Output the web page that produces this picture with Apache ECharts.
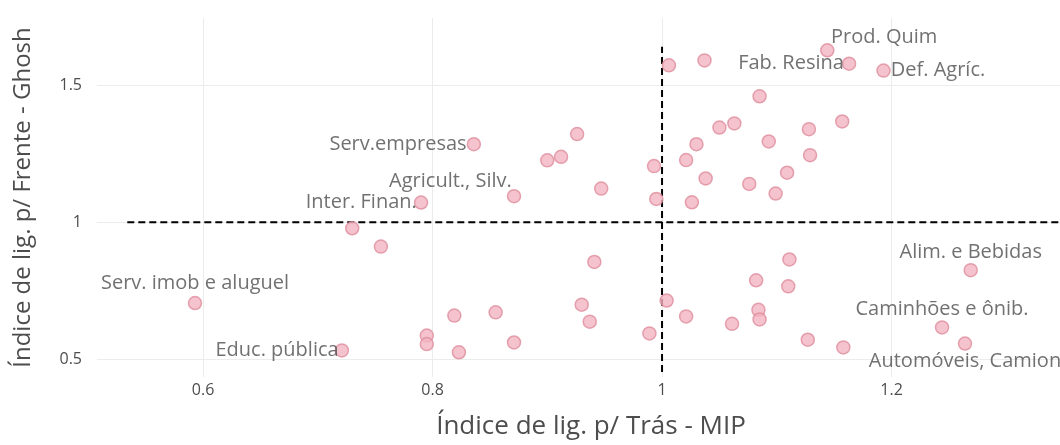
<!DOCTYPE html>
<html>
<head>
<meta charset="utf-8">
<script src="https://cdn.jsdelivr.net/npm/echarts@6/dist/echarts.min.js"></script>
<style>
  html, body { margin: 0; padding: 0; background: #fff; }
  #chart { width: 1060px; height: 445px; }
</style>
</head>
<body>
<div id="chart"></div>
<script>
// setores (vazio = sem rótulo)
var sectors = [
  'Prod. Quim', 'Fab. Resina', 'Def. Agríc.', 'Serv.empresas', 'Agricult., Silv.',
  'Inter. Finan.', 'Serv. imob e aluguel', 'Educ. pública', 'Alim. e Bebidas',
  'Caminhões e ônib.', 'Automóveis, Camion',
  '', '', '', '', '', '', '', '', '', '', '', '', '', '', '', '', '', '', '', '', '', '',
  '', '', '', '', '', '', '', '', '', '', '', '', '', '', '', '', '', '', '', '', '', ''
];
// índice de ligação p/ trás (MIP)
var ligTras = [
  1.144, 1.163, 1.193, 0.836, 0.871, 0.790, 0.593, 0.721, 1.269, 1.244, 1.264,
  1.006, 1.037, 1.085, 1.050, 1.063, 1.128, 1.157, 0.926, 0.900, 0.912, 1.030,
  1.093, 1.129, 1.021, 0.993, 0.947, 1.038, 1.076, 1.109, 1.099, 0.995, 1.026,
  0.730, 0.755, 0.819, 0.855, 0.795, 0.795, 0.871, 0.823, 0.941, 1.111, 1.082,
  1.110, 1.004, 0.930, 1.021, 1.084, 1.085, 0.937, 1.061, 0.989, 1.127, 1.158
];
// índice de ligação p/ frente (Ghosh)
var ligFrente = [
  1.628, 1.579, 1.554, 1.285, 1.095, 1.072, 0.705, 0.532, 0.825, 0.616, 0.557,
  1.573, 1.591, 1.460, 1.346, 1.361, 1.340, 1.368, 1.322, 1.226, 1.239, 1.285,
  1.295, 1.245, 1.227, 1.205, 1.123, 1.160, 1.140, 1.181, 1.105, 1.085, 1.073,
  0.978, 0.911, 0.659, 0.671, 0.586, 0.555, 0.561, 0.525, 0.855, 0.864, 0.788,
  0.766, 0.714, 0.699, 0.656, 0.680, 0.645, 0.637, 0.629, 0.594, 0.571, 0.543
];
// linhas de referência (média = 1)
var refLineH = [[0.534, 1], [1.40, 1]];
var refLineV = [[1, 0.453], [1, 1.641]];

// posição dos rótulos (símbolo de 13px; arrays relativos ao canto sup. esq.)
var labelPos = {
  'Prod. Quim': { position: [11, -6], align: 'left', verticalAlign: 'middle' },
  'Fab. Resina': { position: 'left', distance: -2 },
  'Def. Agríc.': { position: 'right', distance: 0 },
  'Serv.empresas': { position: 'left', distance: 0 },
  'Agricult., Silv.': { position: [5, -8], align: 'right', verticalAlign: 'middle' },
  'Inter. Finan.': { position: 'left', distance: -3 },
  'Serv. imob e aluguel': { position: 'top', distance: 2 },
  'Educ. pública': { position: 'left', distance: -4 },
  'Alim. e Bebidas': { position: 'top', distance: 1 },
  'Caminhões e ônib.': { position: 'top', distance: 1 },
  'Automóveis, Camion': { position: 'bottom', distance: 1 }
};

var font = "'Open Sans', 'Noto Sans', sans-serif";
var textColor = '#4d4d4d';

function initChart(dom) {
  var chart = echarts.init(dom, null, { width: 1060, height: 445 });

  var points = ligTras.map(function (x, i) {
    var name = sectors[i];
    var item = { name: name, value: [x, ligFrente[i]] };
    if (name) {
      var p = labelPos[name];
      item.label = {
        show: true,
        formatter: name,
        position: p.position
      };
      if (p.distance !== undefined) item.label.distance = p.distance;
      if (p.align) item.label.align = p.align;
      if (p.verticalAlign) item.label.verticalAlign = p.verticalAlign;
    }
    return item;
  });

  function tickFmt(v) {
    var r = Math.round(v * 10) / 10;
    return Math.abs(v - r) < 1e-6 ? String(r) : '';
  }

  var option = {
    animation: false,
    backgroundColor: '#fff',
    grid: { left: 97, right: 0, top: 18, bottom: 65 },
    xAxis: {
      type: 'value',
      min: 0.5076,
      max: 1.3468,
      splitNumber: 5,
      name: 'Índice de lig. p/ Trás - MIP',
      nameLocation: 'middle',
      nameGap: 37,
      nameTextStyle: { fontFamily: font, fontSize: 26, color: textColor, padding: [0, 0, 0, 25] },
      axisLine: { show: false },
      axisTick: { show: false },
      axisLabel: {
        margin: 5, fontFamily: font, fontSize: 16, color: textColor,
        showMinLabel: false, showMaxLabel: false, formatter: tickFmt
      },
      splitLine: { show: true, showMinLine: false, showMaxLine: false, lineStyle: { color: '#ececec', width: 1 } }
    },
    yAxis: {
      type: 'value',
      min: 0.4348,
      max: 1.746,
      splitNumber: 3,
      name: 'Índice de lig. p/ Frente - Ghosh',
      nameLocation: 'middle',
      nameGap: 62,
      nameTextStyle: { fontFamily: font, fontSize: 24, color: textColor },
      axisLine: { show: false },
      axisTick: { show: false },
      axisLabel: {
        margin: 15, fontFamily: font, fontSize: 16, color: textColor,
        showMinLabel: false, showMaxLabel: false, formatter: tickFmt
      },
      splitLine: { show: true, showMinLine: false, showMaxLine: false, lineStyle: { color: '#ececec', width: 1 } }
    },
    series: [
      {
        type: 'line',
        data: refLineH,
        symbol: 'none',
        silent: true,
        lineStyle: { color: '#000', width: 2, type: [7, 4] },
        z: 1
      },
      {
        type: 'line',
        data: refLineV,
        symbol: 'none',
        silent: true,
        lineStyle: { color: '#000', width: 2, type: [7, 4] },
        z: 1
      },
      {
        type: 'scatter',
        data: points,
        symbol: 'circle',
        symbolSize: 13,
        itemStyle: { color: '#f2b4c1', borderColor: '#de8c9c', borderWidth: 1.5 },
        label: { fontFamily: font, fontSize: 20, color: textColor },
        labelLayout: { hideOverlap: false },
        z: 3
      }
    ]
  };

  chart.setOption(option);
  return chart;
}

initChart(document.getElementById('chart'));
</script>
</body>
</html>
